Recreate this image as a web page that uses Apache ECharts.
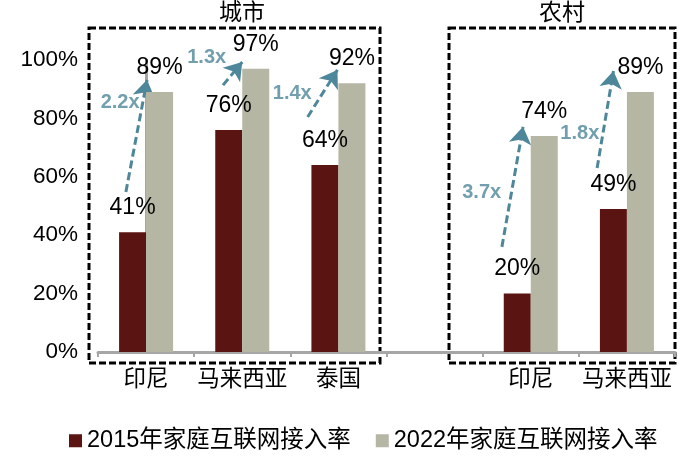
<!DOCTYPE html>
<html>
<head>
<meta charset="utf-8">
<script src="https://cdn.jsdelivr.net/npm/echarts@6/dist/echarts.min.js"></script>
<style>
  html, body { margin: 0; padding: 0; background: #fff; }
  #chart { width: 700px; height: 461px; }
</style>
</head>
<body>
<div id="chart"></div>
<script>
const categories = ['印尼', '马来西亚', '泰国', '', '印尼', '马来西亚'];
const rate2015 = [41, 76, 64, '-', 20, 49];
const rate2022 = [89, 97, 92, '-', 74, 89];
const yTicks = [0, 20, 40, 60, 80, 100];
const growthText = ['2.2x', '1.3x', '1.4x', '3.7x', '1.8x'];

// annotation anchors in (category index, %) units
const arrowFrom = [[-0.21, 54.8], [0.80, 91.4], [1.68, 80.5], [3.70, 36.0], [4.69, 63.0]];
const arrowTo = [[0.01, 93.2], [1.00, 99.3], [1.99, 96.6], [3.92, 77.1], [4.86, 96.2]];
const growthAt = [[-0.27, 85.3], [0.63, 100.7], [1.52, 88.4], [3.49, 54.5], [4.51, 75.0]];

const FONT = "'Liberation Sans', 'Noto Sans CJK SC', sans-serif";
const DARK = '#5a1512';
const LIGHT = '#b5b6a4';
const TEAL = '#4f879a';
const AXIS = '#a6a6a6';

const chart = echarts.init(document.getElementById('chart'));

const barLabel = {
  show: true,
  position: 'top',
  distance: 13,
  fontSize: 23,
  fontFamily: FONT,
  color: '#000',
  formatter: '{c}%'
};

const options = {
  animation: false,
  textStyle: { fontFamily: FONT },
  grid: { left: 98, right: 25, top: 60, bottom: 109, containLabel: false },
  legend: {
    data: ['2015年家庭互联网接入率', '2022年家庭互联网接入率'],
    left: 64,
    top: 424,
    icon: 'rect',
    itemWidth: 13,
    itemHeight: 13,
    itemGap: 25,
    textStyle: { fontSize: 23.5, fontFamily: FONT, color: '#000' }
  },
  xAxis: [
    {
      type: 'category',
      data: categories,
      axisLine: { lineStyle: { color: AXIS, width: 3 } },
      axisTick: { show: true, length: 5, lineStyle: { color: AXIS, width: 2 } },
      axisLabel: { interval: 0, fontSize: 22.5, color: '#000', margin: 17, fontFamily: FONT }
    },
    {
      type: 'value',
      min: -0.5,
      max: 5.5,
      show: false
    }
  ],
  yAxis: {
    type: 'value',
    min: yTicks[0],
    max: yTicks[yTicks.length - 1],
    interval: 20,
    axisLine: { show: true, lineStyle: { color: AXIS, width: 3 } },
    axisTick: { show: false },
    splitLine: { show: false },
    axisLabel: { fontSize: 22.5, color: '#000', margin: 20, fontFamily: FONT, formatter: '{value}%' }
  },
  series: [
    {
      name: '2015年家庭互联网接入率',
      type: 'bar',
      data: rate2015,
      barWidth: 27,
      barGap: '0%',
      itemStyle: { color: DARK },
      label: barLabel
    },
    {
      name: '2022年家庭互联网接入率',
      type: 'bar',
      data: rate2022,
      barWidth: 27,
      barGap: '0%',
      itemStyle: { color: LIGHT },
      label: barLabel
    },
    {
      type: 'lines',
      coordinateSystem: 'cartesian2d',
      xAxisIndex: 1,
      yAxisIndex: 0,
      clip: false,
      silent: true,
      symbol: ['none', 'arrow'],
      symbolSize: 17,
      lineStyle: { color: TEAL, width: 3, type: [8, 4], opacity: 1, curveness: 0 },
      data: arrowFrom.map((p, i) => ({ coords: [p, arrowTo[i]] }))
    },
    {
      type: 'scatter',
      xAxisIndex: 1,
      yAxisIndex: 0,
      clip: false,
      silent: true,
      symbolSize: 0,
      label: {
        show: true,
        position: 'inside',
        formatter: p => p.name,
        fontSize: 20,
        fontWeight: 'bold',
        color: TEAL,
        fontFamily: FONT
      },
      data: growthAt.map((p, i) => ({ value: p, name: growthText[i] }))
    }
  ],
  graphic: [
    {
      type: 'rect', silent: true,
      shape: { x: 89, y: 28, width: 291, height: 335 },
      style: { fill: 'none', stroke: '#000', lineWidth: 3, lineDash: [7, 3] }
    },
    {
      type: 'rect', silent: true,
      shape: { x: 449, y: 28, width: 226, height: 335 },
      style: { fill: 'none', stroke: '#000', lineWidth: 3, lineDash: [7, 3] }
    },
    {
      type: 'text', left: 219, top: 2,
      style: { text: '城市', fontSize: 23, fontFamily: FONT, fill: '#000' }
    },
    {
      type: 'text', left: 539, top: 2,
      style: { text: '农村', fontSize: 23, fontFamily: FONT, fill: '#000' }
    }
  ]
};

chart.setOption(options);
</script>
</body>
</html>
